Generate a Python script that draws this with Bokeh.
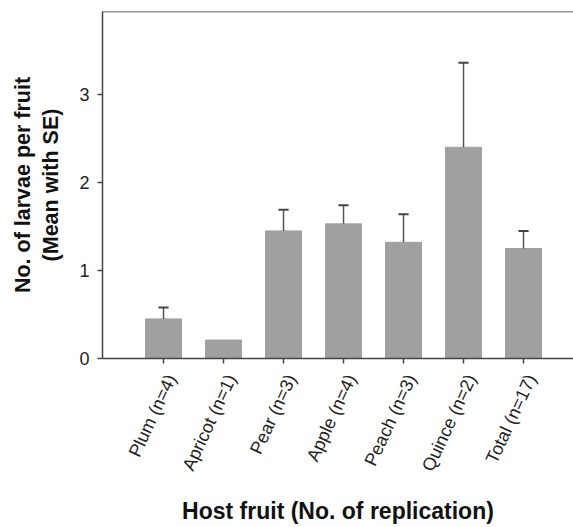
from bokeh.plotting import figure
from bokeh.models import ColumnDataSource, FixedTicker, Span, Range1d
from bokeh.embed import file_html
from bokeh.resources import INLINE
import math

fruits = ["Plum", "Apricot", "Pear", "Apple", "Peach", "Quince", "Total"]
reps = [4, 1, 3, 4, 3, 2, 17]
means = [0.45, 0.21, 1.45, 1.53, 1.32, 2.40, 1.25]
err_top = [0.58, None, 1.69, 1.74, 1.64, 3.36, 1.45]
y_ticks = [0, 1, 2, 3]

xs = list(range(1, len(fruits) + 1))
label_shift = 0.13  # rotated labels sit slightly right of their tick
label_pos = [x + label_shift for x in xs]
labels = {lp: f"{f} (n={r})" for lp, f, r in zip(label_pos, fruits, reps)}

p = figure(width=573, height=527, output_backend="svg", toolbar_location=None,
           x_range=Range1d(-0.017, 7.833), y_range=Range1d(0, 3.943),
           min_border_left=102, min_border_right=0, min_border_top=11, min_border_bottom=169)
p.outline_line_color = None
p.grid.visible = False
p.background_fill_color = "white"
p.border_fill_color = "white"

src = ColumnDataSource(dict(x=xs, top=means))
p.vbar(x="x", top="top", bottom=0, width=0.6, source=src,
       fill_color="#a0a0a0", line_color="#a0a0a0")

ex = [x for x, e in zip(xs, err_top) if e is not None]
eb = [m for m, e in zip(means, err_top) if e is not None]
et = [e for e in err_top if e is not None]
esrc = ColumnDataSource(dict(x=ex, y0=eb, y1=et, xl=[x - 0.085 for x in ex], xr=[x + 0.085 for x in ex]))
p.segment(x0="x", y0="y0", x1="x", y1="y1", source=esrc, line_color="#555555", line_width=1.5)
p.segment(x0="xl", y0="y1", x1="xr", y1="y1", source=esrc, line_color="#444444", line_width=2)

# top frame line
p.add_layout(Span(location=3.943, dimension="width", line_color="#333333", line_width=1.5))

for ax in (p.xaxis[0], p.yaxis[0]):
    ax.axis_line_color = "#444444"
    ax.axis_line_width = 1.5
    ax.major_tick_line_color = "#444444"
    ax.major_tick_line_width = 1.5
    ax.major_tick_out = 5
    ax.major_tick_in = 0
    ax.minor_tick_line_color = None
    ax.major_label_text_font = "Liberation Sans"
    ax.major_label_text_color = "#222222"
    ax.axis_label_text_font = "Liberation Sans"
    ax.axis_label_text_font_style = "bold"
    ax.axis_label_text_color = "#111111"

p.yaxis.ticker = FixedTicker(ticks=y_ticks)
p.yaxis.major_label_text_font_size = "18px"
p.yaxis.major_label_standoff = 8
p.yaxis.axis_label = "No. of larvae per fruit\n(Mean with SE)"
p.yaxis.axis_label_text_font_size = "21.5px"
p.yaxis.axis_label_standoff = 13

# bar ticks drawn as minor ticks, labels placed on (invisible) major ticks
xa = p.xaxis[0]
xa.ticker = FixedTicker(ticks=label_pos, minor_ticks=xs)
xa.major_tick_line_color = None
xa.minor_tick_line_color = "#444444"
xa.minor_tick_line_width = 1.5
xa.minor_tick_out = 5
xa.minor_tick_in = 0
xa.major_label_overrides = labels
xa.major_label_orientation = math.radians(65)
xa.major_label_text_font_size = "18px"
xa.major_label_standoff = 12
xa.axis_label = "Host fruit (No. of replication)"
xa.axis_label_text_font_size = "23px"
xa.axis_label_standoff = 16

open("out.html", "w").write(file_html(p, INLINE))
